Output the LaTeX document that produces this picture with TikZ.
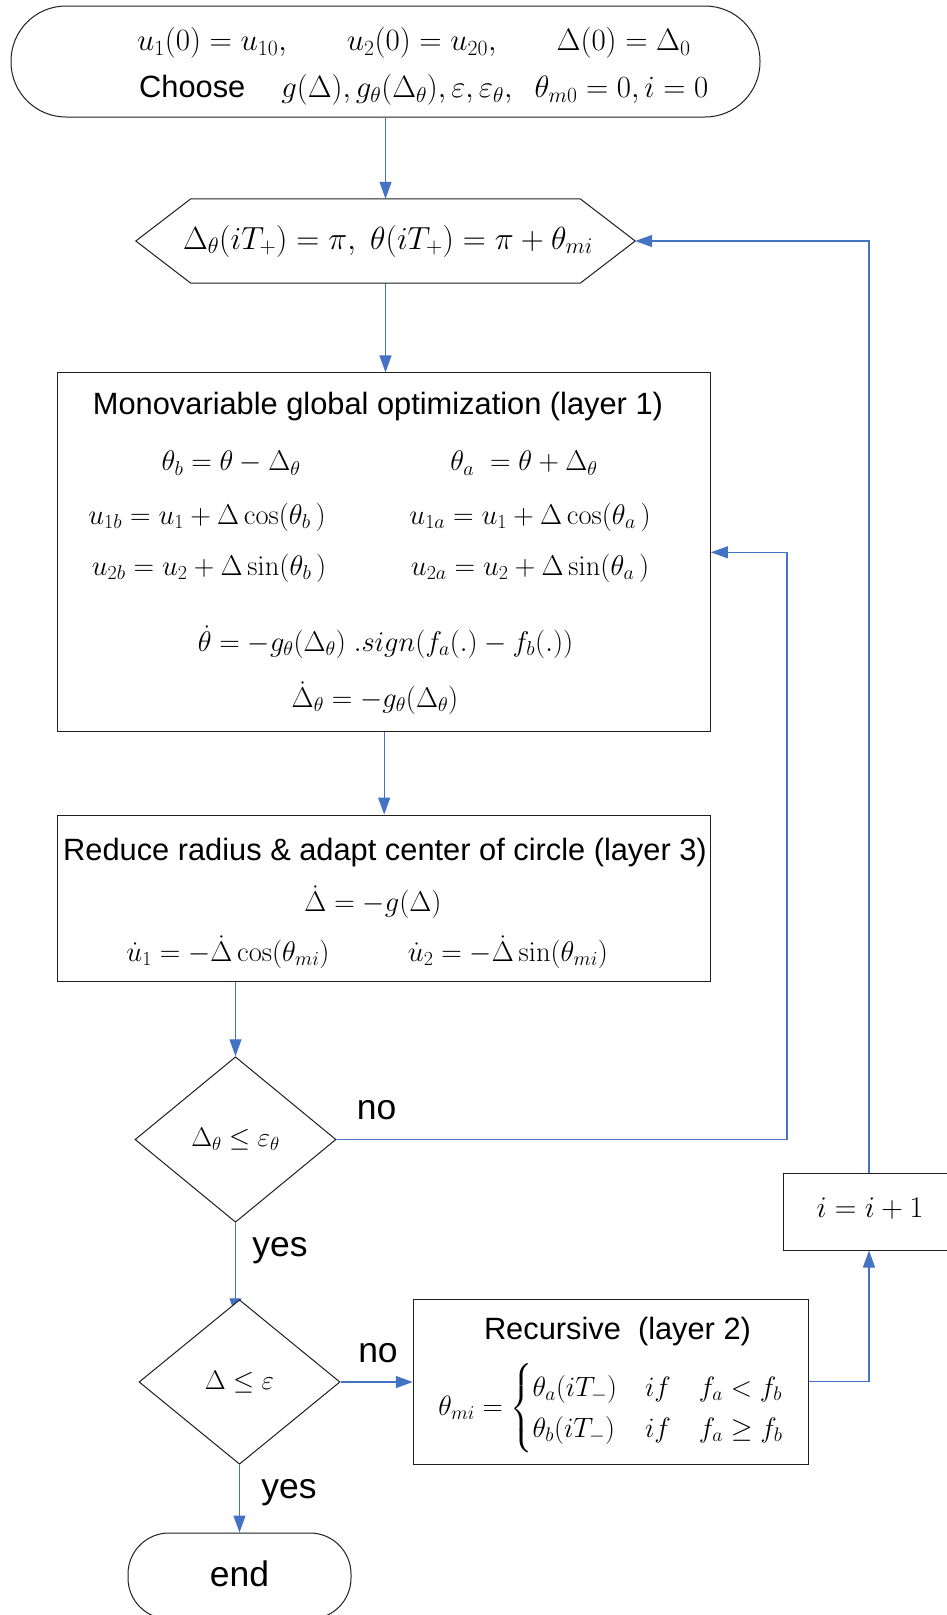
\RequirePackage{fix-cm}
\documentclass[tikz,border=0pt]{standalone}
\usepackage{amsmath}
\usepackage[no-math]{fontspec}
\setmainfont{Liberation Sans}
\usetikzlibrary{shapes.geometric,arrows.meta,backgrounds,calc}
\definecolor{flowblue}{RGB}{68,114,196}
\definecolor{edgegray}{RGB}{30,30,30}

\begin{document}
\begin{tikzpicture}[x=1pt, y=-1pt,
  flow/.style={draw=flowblue, line width=1.2pt},
  tip/.style={-{Triangle[length=17pt,width=12pt]}},
  outline/.style={draw=edgegray, line width=1pt, fill=white},
  sans/.style={font=\fontsize{30.8}{36}\selectfont, inner sep=0pt},
  lbl/.style={font=\fontsize{35.5}{42}\selectfont, inner sep=0pt},
  eq/.style={font=\fontsize{28.5}{34}\selectfont, inner sep=0pt}]
\useasboundingbox (0,0) rectangle (947,1615);

% start terminator
\node[outline, rounded corners=55pt, minimum width=749pt, minimum height=111pt, inner sep=0pt] (start) at (385.5,61.5) {};
\node[eq, font=\fontsize{31}{36}\selectfont, anchor=west] (startA) at (137,43) {$u_1(0)=u_{10},\hspace{55pt}u_2(0)=u_{20},\hspace{55pt}\Delta(0)=\Delta_0$};
\node[sans, anchor=west] (startB) at (139,89.7) {Choose\hspace{36pt}{\fontsize{30.8}{36}\selectfont$g(\Delta), g_\theta(\Delta_\theta),\varepsilon,\varepsilon_\theta,\ \ \theta_{m0}=0, i=0$}};

% preparation hexagon
\node[minimum width=499pt, minimum height=84pt, inner sep=0pt] (hex) at (385.5,241) {};
\draw[outline] (hex.west) -- ([xshift=55pt]hex.north west) -- ([xshift=-55pt]hex.north east) -- (hex.east)
  -- ([xshift=-55pt]hex.south east) -- ([xshift=55pt]hex.south west) -- cycle;
\node[eq, font=\fontsize{32}{38}\selectfont] (hexeq) at (388,241) {$\Delta_\theta(iT_+)=\pi,\ \theta(iT_+)=\pi+\theta_{mi}$};

% layer 1
\node[outline, minimum width=652.5pt, minimum height=358.7pt, inner sep=0pt] (opt) at (384.2,552.3) {};
\node[sans] (optT) at (378,406.7) {Monovariable global optimization (layer 1)};
\node[eq] (thb) at (231,463) {$\theta_b=\theta-\Delta_\theta$};
\node[eq] (tha) at (524,463) {$\theta_a\ =\theta+\Delta_\theta$};
\node[eq] (u1b) at (207,517) {$u_{1b}=u_1+\Delta\cos(\theta_b\,)$};
\node[eq] (u1a) at (530,517) {$u_{1a}=u_1+\Delta\cos(\theta_a\,)$};
\node[eq] (u2b) at (209,568) {$u_{2b}=u_2+\Delta\sin(\theta_b\,)$};
\node[eq] (u2a) at (530,568) {$u_{2a}=u_2+\Delta\sin(\theta_a\,)$};
\node[eq] (thdot) at (385.5,642) {$\dot\theta=-g_\theta(\Delta_\theta)\;.sign(f_a(.)-f_b(.))$};
\node[eq] (deldot) at (375,698) {$\dot\Delta_\theta=-g_\theta(\Delta_\theta)$};

% layer 3
\node[outline, minimum width=652.5pt, minimum height=166pt, inner sep=0pt] (adapt) at (384.2,898) {};
\node[sans] (adaptT) at (385,853) {Reduce radius \& adapt center of circle (layer 3)};
\node[eq] (ddot) at (373,902) {$\dot\Delta=-g(\Delta)$};
\node[eq] (u1dot) at (228,952) {$\dot u_1=-\dot\Delta\cos(\theta_{mi})$};
\node[eq] (u2dot) at (508,952) {$\dot u_2=-\dot\Delta\sin(\theta_{mi})$};

% decisions
\node[outline, diamond, minimum width=201pt, minimum height=165.5pt, inner sep=0pt, eq, font=\fontsize{27}{32}\selectfont] (d1) at (235.5,1139.5) {$\Delta_\theta\le\varepsilon_\theta$};
\node[outline, diamond, minimum width=201pt, minimum height=164.5pt, inner sep=0pt, eq, font=\fontsize{27}{32}\selectfont] (d2) at (239.5,1382) {$\Delta\le\varepsilon$};

% layer 2
\node[outline, minimum width=395.5pt, minimum height=165pt, inner sep=0pt] (rec) at (611,1381.5) {};
\node[sans] (recT) at (617.5,1332) {Recursive~ (layer 2)};
\node[eq, font=\fontsize{28}{34}\selectfont] (receq) at (611,1408.5) {$\theta_{mi}=\begin{cases}\theta_a(iT_-) & if\quad f_a<f_b\\ \theta_b(iT_-) & if\quad f_a\ge f_b\end{cases}$};

% counter
\node[outline, minimum width=172pt, minimum height=77pt, inner sep=0pt] (inc) at (869,1211.5) {};
\node[eq, font=\fontsize{30}{36}\selectfont] (incT) at (870,1209) {$i=i+1$};

% end terminator
\node[outline, rounded corners=41pt, minimum width=223pt, minimum height=86pt, inner sep=0pt] (stop) at (239.5,1576) {};
\node[lbl] (stopT) at (239.5,1573.5) {end};

% branch labels
\node[lbl] (no1) at (376.6,1109.7) {no};
\node[lbl] (yes1) at (280,1251) {yes};
\node[lbl] (no2) at (378,1353.5) {no};
\node[lbl] (yes2) at (289,1493) {yes};

% connectors
\begin{scope}[on background layer]
\fill[white] (0,0) rectangle (947,1615);
\draw[flow,tip] (start.south) -- (hex.north);
\draw[flow,tip] (hex.south) -- (hex.south |- opt.north);
\draw[flow,tip] (opt.south) -- (adapt.north);
\draw[flow,tip] (d1.north |- adapt.south) -- (d1.north);
\coordinate (rx) at (787,1139.5);
\draw[flow,tip] (d1.east) -- (rx) -- (rx |- opt.east) -- (opt.east);
\draw[flow,tip] (d1.south) -- ($(d1.south |- d2.north)+(0,16)$);
\draw[flow,tip] (d2.east) -- (d2.east -| rec.west);
\draw[flow,tip] (rec.east) -| (inc.south);
\draw[flow,tip] (inc.north) |- (hex.east);
\draw[flow,tip] (d2.south) -- (stop.north);
\end{scope}
\end{tikzpicture}
\end{document}
